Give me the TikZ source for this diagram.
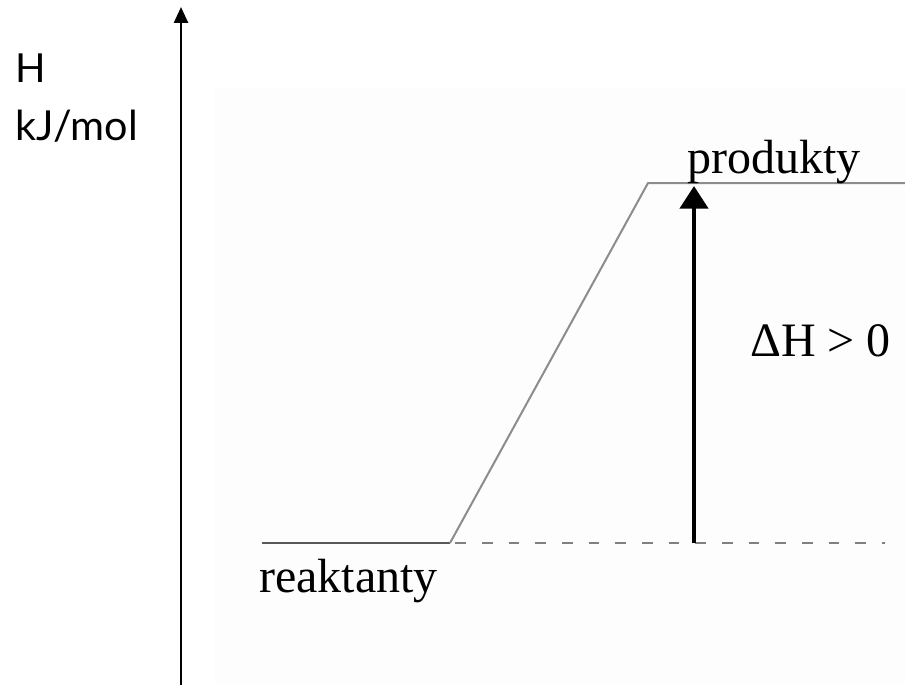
\documentclass[tikz,border=0pt]{standalone}
\usepackage{fontspec}
\setmainfont{Liberation Serif}
\newfontfamily\unitfont{Lato}
\usetikzlibrary{arrows.meta}

\begin{document}
\begin{tikzpicture}[x=0.75pt,y=-0.75pt]
\useasboundingbox (0,0) rectangle (905,685);
\fill[black!0.8] (215,87) rectangle (905,683);

% axis
\coordinate (O) at (181,685);
\coordinate (T) at (181,7);
\draw[line width=1.9pt,-{Triangle[length=12pt,width=10.5pt]}] (O) -- (T);
\node[font=\unitfont\fontsize{30}{36}\selectfont,anchor=base west,inner sep=0pt] (Hlab) at (15,82) {H};
\node[font=\unitfont\fontsize{31}{36}\selectfont,anchor=base west,inner sep=0pt] (Ulab) at (15,140) {kJ/mol};

% levels
\coordinate (R0) at (262,543);
\coordinate (R1) at (450,543);
\coordinate (R2) at (885,543);
\coordinate (P0) at (648,183);
\coordinate (P1) at (905,183);
\draw[black!65,line width=1.6pt] (R0) -- (R1);
\draw[black!45,line width=1.5pt] (R1) -- (P0) -- (P1);
\draw[black!50,line width=1.8pt,dash pattern=on 8pt off 12pt,dash phase=-4pt] (R1) -- (R2);

% enthalpy change
\coordinate (A0) at (694,543);
\coordinate (A1) at (694,186);
\draw[line width=3.4pt,-{Triangle[length=17pt,width=21pt]}] (A0) -- (A1);

\node[font=\fontsize{36}{40}\selectfont,anchor=base west,inner sep=0pt] (prod) at (687,173) {produkty};
\node[font=\fontsize{36}{40}\selectfont,anchor=base west,inner sep=0pt] (reak) at (259,592) {reaktanty};
\node[font=\fontsize{36}{40}\selectfont,anchor=base west,inner sep=0pt] (dH) at (750,356) {ΔH > 0};
\end{tikzpicture}
\end{document}
